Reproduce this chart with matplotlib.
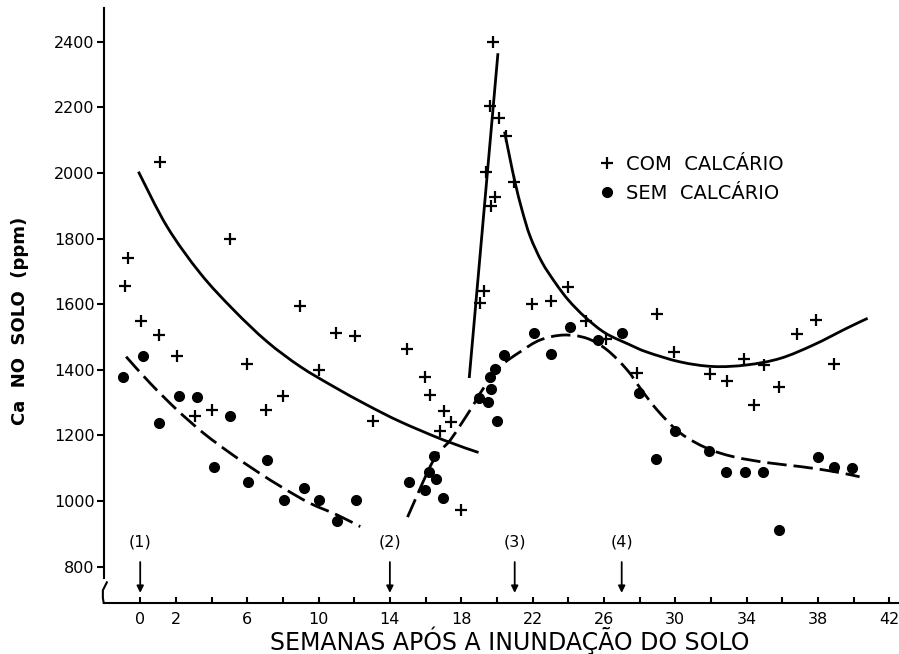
import matplotlib
matplotlib.use('Agg')
import matplotlib.pyplot as plt
import matplotlib.transforms as mtransforms
from matplotlib.lines import Line2D
from matplotlib.path import Path
from matplotlib.patches import PathPatch

# --- data (weeks after flooding, Ca ppm) ---

# COM CALCARIO (+)
com_week = [-0.84, -0.71, 0.06, 1.08, 1.12, 2.06, 3.08, 4.02, 5.05, 5.98,
            7.07, 8.0, 8.97, 10.0, 10.99, 12.06, 13.05, 14.96, 15.95, 16.26,
            16.83, 17.01, 17.43, 18.0, 19.07, 19.29, 19.37, 19.59, 19.67, 19.81,
            19.87, 20.12, 20.49, 20.98, 21.97, 23.03, 23.99, 25.0, 26.14, 27.86,
            28.98, 29.91, 31.93, 32.9, 33.88, 34.4, 34.96, 35.8, 36.83, 37.9,
            38.88]
com_ca = [1657, 1740, 1550, 1506, 2033, 1443, 1258, 1278, 1799, 1417,
          1278, 1320, 1595, 1400, 1511, 1504, 1244, 1463, 1377, 1323,
          1214, 1273, 1242, 973, 1603, 1641, 2002, 2204, 1900, 2400,
          1928, 2167, 2113, 1971, 1601, 1610, 1651, 1550, 1494, 1390,
          1570, 1454, 1387, 1367, 1433, 1293, 1415, 1347, 1509, 1552,
          1418]

# SEM CALCARIO (dots)
sem_week = [-0.94, 0.13, 1.08, 2.15, 3.18, 4.15, 5.05, 6.04, 7.11, 8.09,
            9.2, 10.04, 11.03, 12.1, 15.05, 15.95, 16.21, 16.45, 16.58, 16.98,
            18.97, 19.53, 19.59, 19.67, 19.87, 20.01, 20.38, 22.06, 23.03, 24.08,
            25.65, 27.02, 27.95, 28.94, 30.01, 31.87, 32.87, 33.89, 34.92, 35.84,
            37.99, 38.88, 39.92]
sem_ca = [1377, 1443, 1237, 1320, 1318, 1105, 1259, 1059, 1125, 1003,
          1041, 1003, 940, 1003, 1059, 1034, 1088, 1137, 1066, 1008,
          1313, 1303, 1377, 1342, 1402, 1245, 1445, 1513, 1448, 1532,
          1491, 1511, 1329, 1128, 1215, 1151, 1087, 1090, 1090, 912,
          1133, 1105, 1102]

# fitted curves
com_fit1_week = [-0.1, 1.5, 3.37, 5.23, 7.11, 8.97, 10.84, 12.71, 14.58, 17.01, 18.97]
com_fit1_ca = [2004, 1837, 1694, 1583, 1486, 1410, 1349, 1293, 1242, 1186, 1148]

com_fit2_week = [18.45, 20.06]
com_fit2_ca = [1375, 2365]

com_fit3_week = [20.43, 20.75, 21.03, 21.41, 21.87, 22.53, 23.28, 24.02, 24.96, 26.08,
                 27.39, 28.42, 30.29, 32.15, 34.03, 35.9, 37.76, 39.63, 40.79]
com_fit3_ca = [2126, 2040, 1969, 1887, 1806, 1728, 1665, 1612, 1560, 1512,
               1478, 1454, 1424, 1410, 1415, 1435, 1476, 1527, 1557]

sem_fit1_week = [-0.79, 0.56, 2.06, 3.55, 5.05, 6.55, 8.04, 9.53, 11.03, 12.34]
sem_fit1_ca = [1440, 1359, 1278, 1207, 1146, 1090, 1039, 993, 958, 922]

sem_fit2_week = [14.99, 16.45, 17.39, 18.51, 19.25, 20.19, 21.31, 22.43, 23.74, 25.05,
                 26.17, 27.3, 28.04, 28.98, 30.29, 31.78, 33.27, 35.15, 37.02, 38.89,
                 40.34]
sem_fit2_ca = [951, 1125, 1186, 1278, 1344, 1410, 1455, 1491, 1506, 1496,
               1461, 1400, 1344, 1278, 1207, 1161, 1135, 1117, 1105, 1090,
               1074]

# events marked with arrows
event_week = [0, 14, 21, 27]
event_label = ['(1)', '(2)', '(3)', '(4)']

x_ticks = list(range(0, 43, 2))
x_labeled = [0, 2, 6, 10, 14, 18, 22, 26, 30, 34, 38, 42]
y_ticks = [800, 1000, 1200, 1400, 1600, 1800, 2000, 2200, 2400]


def smooth_path(xs, ys):
    # draw a smooth line through the traced points (Catmull-Rom as bezier)
    pts = list(zip(xs, ys))
    verts = [pts[0]]
    codes = [Path.MOVETO]
    for i in range(len(pts) - 1):
        p0 = pts[i - 1] if i > 0 else pts[i]
        p1 = pts[i]
        p2 = pts[i + 1]
        p3 = pts[i + 2] if i + 2 < len(pts) else pts[i + 1]
        c1 = (p1[0] + (p2[0] - p0[0]) / 6, p1[1] + (p2[1] - p0[1]) / 6)
        c2 = (p2[0] - (p3[0] - p1[0]) / 6, p2[1] - (p3[1] - p1[1]) / 6)
        verts += [c1, c2, p2]
        codes += [Path.CURVE4] * 3
    return Path(verts, codes)


fig = plt.figure(figsize=(8.99, 6.54), dpi=100)
ax = fig.add_axes([0.1153, 0.0784, 0.8847, 0.9094])

ax.plot(com_week, com_ca, linestyle='none', marker='+', ms=8, mew=1.6, color='black')
ax.plot(sem_week, sem_ca, linestyle='none', marker='o', ms=7, color='black')

for xs, ys in [(com_fit1_week, com_fit1_ca), (com_fit2_week, com_fit2_ca),
               (com_fit3_week, com_fit3_ca)]:
    p = PathPatch(smooth_path(xs, ys), fill=False, edgecolor='black', lw=2)
    p.set_capstyle('butt')
    ax.add_patch(p)
for xs, ys in [(sem_fit1_week, sem_fit1_ca), (sem_fit2_week, sem_fit2_ca)]:
    p = PathPatch(smooth_path(xs, ys), fill=False, edgecolor='black', lw=2,
                  linestyle=(0, (7, 2.5)))
    p.set_capstyle('butt')
    ax.add_patch(p)

for w, lab in zip(event_week, event_label):
    ax.text(w, 875, lab, ha='center', va='center', fontsize=11.5)
    ax.annotate('', xy=(w, 720), xytext=(w, 814),
                arrowprops=dict(arrowstyle='-|>', lw=1.3, color='black',
                                mutation_scale=10, shrinkA=0, shrinkB=0))

ax.set_xlim(-2.05, 42.55)
ax.set_ylim(690, 2503)

ax.spines['top'].set_visible(False)
ax.spines['right'].set_visible(False)
for s in ['left', 'bottom']:
    ax.spines[s].set_linewidth(1.5)
ax.spines['left'].set_bounds(766, 2503)

# axis break mark
trans = mtransforms.blended_transform_factory(ax.transAxes, ax.transData)
ax.plot([0.004, -0.001, -0.001, 0.0], [752, 728, 705, 690], color='black', lw=1.5,
        transform=trans, clip_on=False)

ax.set_xticks(x_ticks)
ax.set_xticklabels([str(t) if t in x_labeled else '' for t in x_ticks])
ax.set_yticks(y_ticks)
ax.tick_params(axis='x', direction='in', length=4, width=1.5, pad=7, labelsize=11.5)
ax.tick_params(axis='y', direction='out', length=5, width=1.5, pad=1.5, labelsize=11.5)

handles = [Line2D([], [], linestyle='none', marker='+', ms=8, mew=1.6, color='black'),
           Line2D([], [], linestyle='none', marker='o', ms=7, color='black')]
ax.legend(handles, ['COM  CALCÁRIO', 'SEM  CALCÁRIO'], loc='upper left',
          bbox_to_anchor=(0.655, 0.778), bbox_transform=fig.transFigure,
          frameon=False, fontsize=14, borderpad=0, handlelength=0.9,
          handletextpad=0.5, labelspacing=0.5)

fig.text(510 / 899, 1 - 641 / 654, 'SEMANAS APÓS A INUNDAÇÃO DO SOLO',
         ha='center', va='center', fontsize=17)
fig.text(20 / 899, 1 - 321 / 654, 'Ca  NO  SOLO  (ppm)', rotation=90,
         ha='center', va='center', fontsize=13, fontweight='bold')

fig.savefig('out.png', dpi=100)
